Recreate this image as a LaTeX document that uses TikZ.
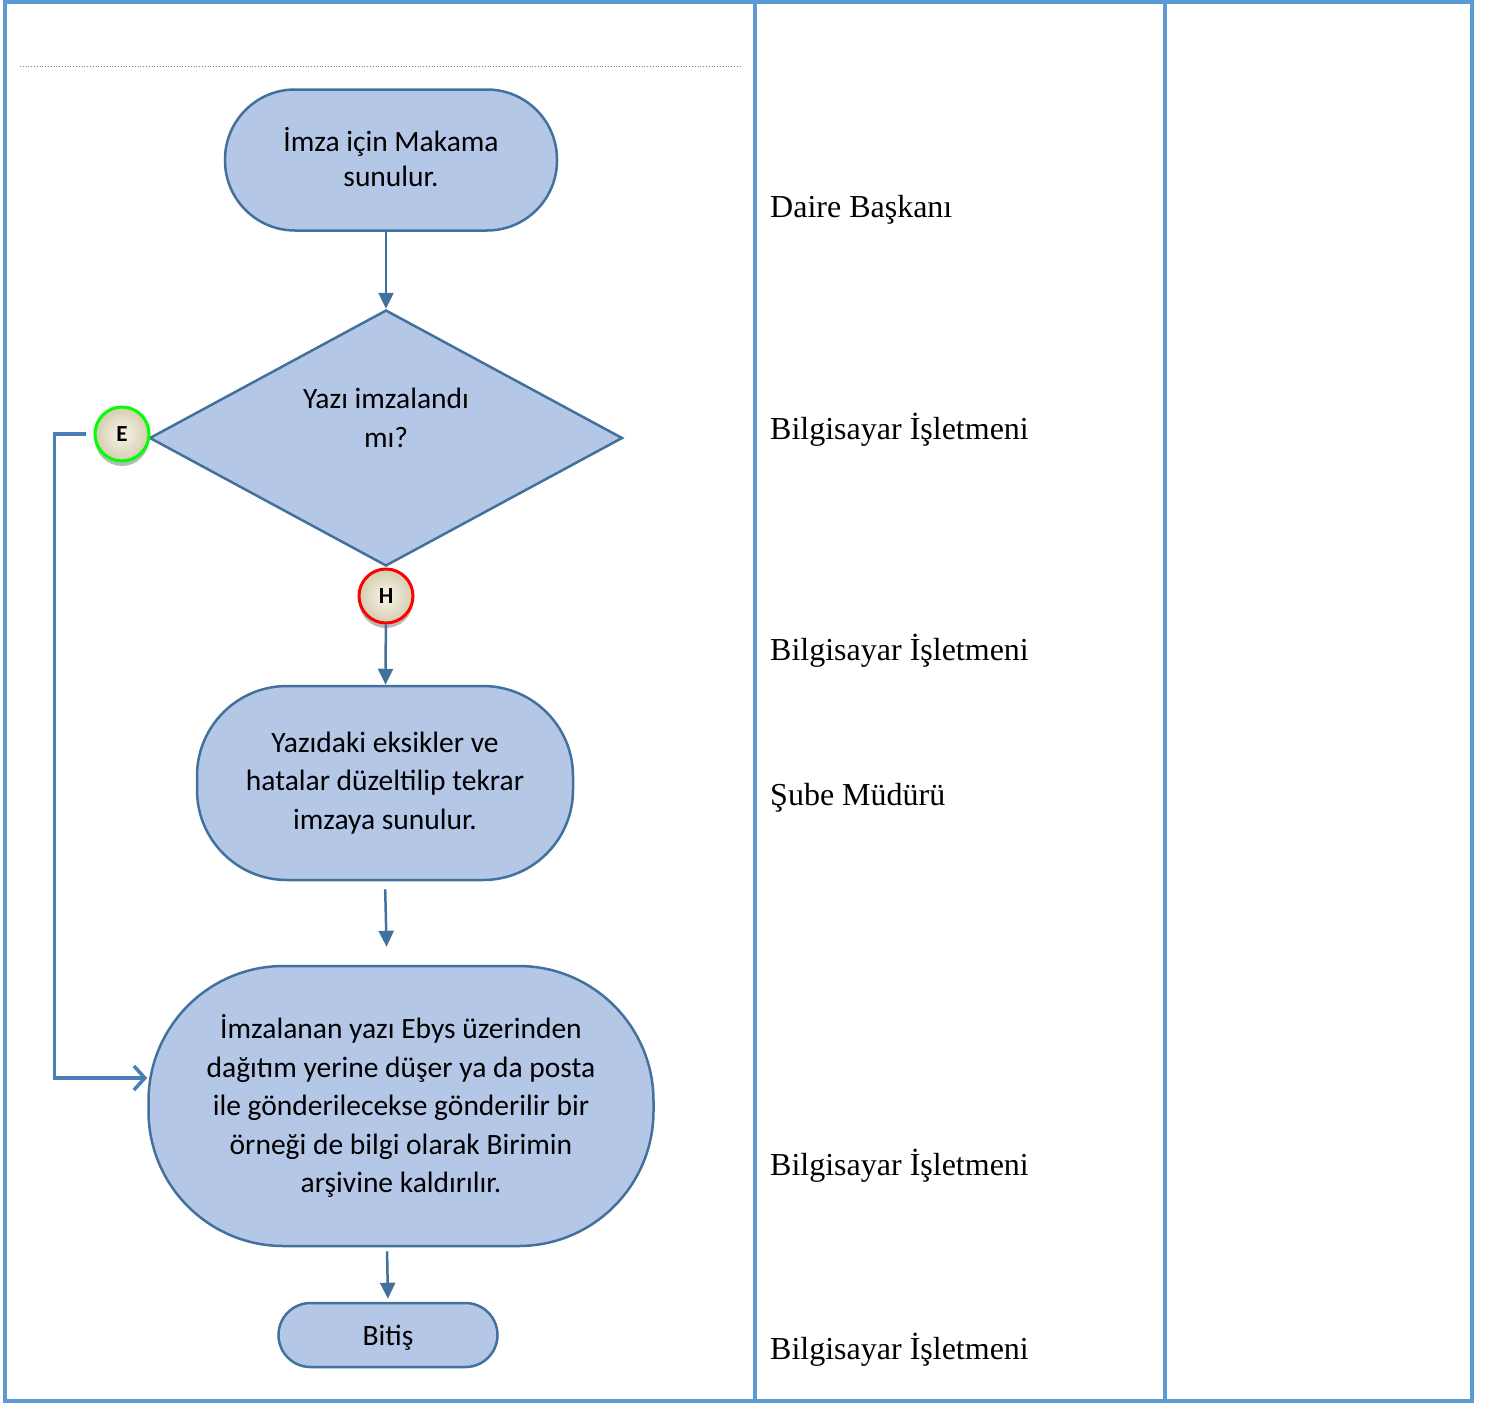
\documentclass[tikz,border=0pt]{standalone}
\usepackage{fontspec}
\setmainfont{Liberation Serif}
\newfontfamily\flowfont{Carlito}
\usetikzlibrary{shapes.geometric,arrows.meta,shadows}
\definecolor{laneblue}{RGB}{91,155,213}
\definecolor{boxfill}{RGB}{180,199,231}
\definecolor{boxline}{RGB}{65,113,156}
\definecolor{loopline}{RGB}{74,126,187}
\definecolor{ballin}{RGB}{248,246,232}
\definecolor{ballout}{RGB}{212,205,176}
\begin{document}
\begin{tikzpicture}[x=1pt,y=-1pt, every node/.style={font=\flowfont\fontsize{29.5}{38.5}\selectfont},
  term/.style={draw=boxline,line width=2.5pt,fill=boxfill,rounded corners=#1,align=center,inner sep=0pt},
  dec/.style={diamond,draw=boxline,line width=2.5pt,fill=boxfill,aspect=1.85,minimum width=473pt,minimum height=256pt,inner sep=0pt},
  ball/.style={circle,draw=#1,line width=3pt,inner color=ballin,outer color=ballout,minimum size=54pt,inner sep=0pt,
    font=\flowfont\bfseries\fontsize{23}{23}\selectfont,drop shadow={shadow xshift=0pt,shadow yshift=-5pt,fill=gray,opacity=0.55}},
  flow/.style={draw=boxline,line width=2.5pt,-{Triangle[length=16pt,width=15pt]}},
  back/.style={draw=loopline,line width=3.5pt,-{Straight Barb[length=11pt,width=24pt,line width=3.5pt]}},
  lane/.style={draw=laneblue,line width=4pt},
  role/.style={font=\fontsize{32}{38}\selectfont,anchor=west,inner sep=0pt}]
  \useasboundingbox (0,0) rectangle (1485,1403);
  % swimlanes
  \draw[lane] (5,2) rectangle (1472,1401);
  \draw[lane] (755,2) -- (755,1401);
  \draw[lane] (1165,2) -- (1165,1401);
  \draw[gray,dotted,line width=0.8pt] (20,66) -- (740,66);
  % flow
  \node[term=70pt,minimum width=332pt,minimum height=141pt,font=\flowfont\fontsize{29.5}{35}\selectfont] (start) at (391,160) {İmza için Makama\\sunulur.\vspace{6pt}};
  \node[dec] (check) at (386,438) {};
  \node (checktxt) at (386,418) [align=center] {Yazı imzalandı\\mı?};
  \node[ball=green] (yes) at (122,434) {E};
  \node[ball=red] (no) at (386,596) {H};
  \node[term=90pt,minimum width=376pt,minimum height=194pt] (fix) at (385,783) {Yazıdaki eksikler ve\\hatalar düzeltilip tekrar\\imzaya sunulur.};
  \node[term=135pt,minimum width=505pt,minimum height=280pt] (final) at (401,1106) {İmzalanan yazı Ebys üzerinden\\dağıtım yerine düşer ya da posta\\ile gönderilecekse gönderilir bir\\örneği de bilgi olarak Birimin\\arşivine kaldırılır.};
  \node[term=32pt,minimum width=219pt,minimum height=64pt,text depth=0pt] (stop) at (388,1335) {Bitiş};
  \draw[flow] (start.south -| check.north) -- (check.north);
  \draw[flow] (no) -- (fix);
  \draw[flow,shorten <=8pt,shorten >=18pt] (fix.south) -- ([xshift=2pt]fix.south |- final.north);
  \draw[flow,shorten <=4pt,shorten >=3pt] ([xshift=-14pt]final.south) -- (stop.north);
  \draw[back] ([xshift=-8pt]yes.west) -- +(-31,0) |- ([yshift=28pt]final.west);
  % roles
  \node[role] (r1) at (770,210) {Daire Başkanı};
  \node[role] (r2) at (770,430) {Bilgisayar İşletmeni};
  \node[role] (r3) at (770,651) {Bilgisayar İşletmeni};
  \node[role] (r4) at (770,798) {Şube Müdürü};
  \node[role] (r5) at (770,1166) {Bilgisayar İşletmeni};
  \node[role] (r6) at (770,1350) {Bilgisayar İşletmeni};
\end{tikzpicture}
\end{document}
